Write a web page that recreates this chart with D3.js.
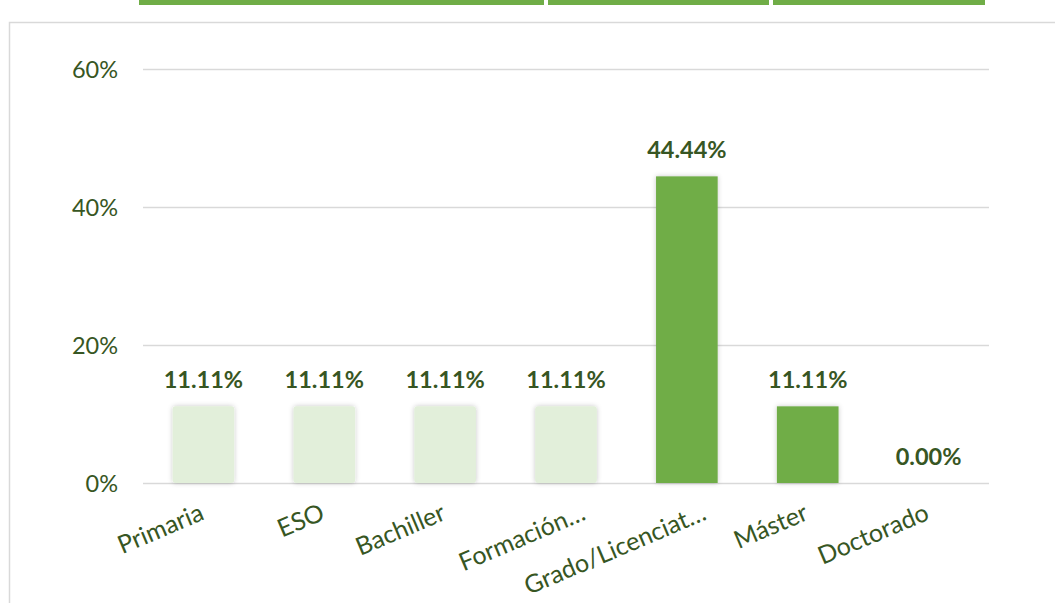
<!DOCTYPE html>
<html>
<head>
<meta charset="utf-8">
<script src="https://cdn.jsdelivr.net/npm/d3@7"></script>
<style>
  body { margin: 0; background: #fff; }
  svg { display: block; }
</style>
</head>
<body>
<script>
// chart data
var categories = ["Primaria", "ESO", "Bachiller", "Formación…", "Grado/Licenciat…", "Máster", "Doctorado"];
var values = [11.11, 11.11, 11.11, 11.11, 44.44, 11.11, 0.00];
var highlighted = [false, false, false, false, true, true, true];
var yTicks = [0, 20, 40, 60];

var W = 1055, H = 603;
var margin = {top: 69, left: 143, right: 66, bottom: 120};
var width = W - margin.left - margin.right,
    height = 483 - margin.top;

var textColor = "#375623";
var font = "Lato, 'Open Sans', sans-serif";

var svg = d3.select("body").append("svg")
  .attr("width", W)
  .attr("height", H);

var defs = svg.append("defs");
var shadow = defs.append("filter").attr("id", "shadow")
  .attr("x", "-30%").attr("y", "-30%").attr("width", "160%").attr("height", "160%");
shadow.append("feDropShadow")
  .attr("dx", 0).attr("dy", 0)
  .attr("stdDeviation", 2.5)
  .attr("flood-color", "#000")
  .attr("flood-opacity", 0.22);

// green strips at the very top (header remnants)
var strips = [[139, 544], [548, 769], [773, 985]];
svg.selectAll(".strip").data(strips).enter().append("rect")
  .attr("class", "strip")
  .attr("x", d => d[0]).attr("y", 0)
  .attr("width", d => d[1] - d[0]).attr("height", 5)
  .attr("fill", "#70ad47");

// chart frame
svg.append("rect")
  .attr("x", 9.5).attr("y", 22.5)
  .attr("width", W + 20).attr("height", H + 20)
  .attr("fill", "none")
  .attr("stroke", "#d9d9d9")
  .attr("stroke-width", 1.5);

var g = svg.append("g")
  .attr("transform", "translate(" + margin.left + "," + margin.top + ")");

var x = d3.scaleBand().domain(categories).range([0, width]).paddingInner(0.49).paddingOuter(0.245);
var y = d3.scaleLinear().domain([0, 60]).range([height, 0]);

// gridlines
g.selectAll(".grid").data(yTicks).enter().append("line")
  .attr("class", "grid")
  .attr("x1", 0).attr("x2", width)
  .attr("y1", d => Math.round(y(d)) + 0.5).attr("y2", d => Math.round(y(d)) + 0.5)
  .attr("stroke", "#d9d9d9")
  .attr("stroke-width", 1.5);

// y axis labels
var yAxis = g.append("g")
  .call(d3.axisLeft(y).tickValues(yTicks).tickFormat(d => d + "%").tickSize(0).tickPadding(25));
yAxis.select(".domain").remove();
yAxis.selectAll("text")
  .attr("fill", textColor)
  .style("font-family", font)
  .style("font-size", "23.5px")
  .attr("dy", "0.36em");

// bars
g.selectAll(".bar").data(values).enter().append("rect")
  .attr("class", "bar")
  .attr("x", (d, i) => x(categories[i]))
  .attr("y", d => y(d))
  .attr("width", x.bandwidth())
  .attr("height", d => height - y(d))
  .attr("rx", (d, i) => highlighted[i] ? 0 : 3)
  .attr("fill", (d, i) => highlighted[i] ? "#70ad47" : "#e2efda")
  .attr("filter", d => d > 0 ? "url(#shadow)" : null);

// value labels
g.selectAll(".lbl").data(values).enter().append("text")
  .attr("class", "lbl")
  .attr("x", (d, i) => x(categories[i]) + x.bandwidth() / 2)
  .attr("y", d => y(d) - 18)
  .attr("text-anchor", "middle")
  .attr("fill", textColor)
  .style("font-family", font)
  .style("font-weight", "bold")
  .style("font-size", "23.5px")
  .text(d => d.toFixed(2) + "%");

// category labels, rotated
g.selectAll(".cat").data(categories).enter().append("text")
  .attr("class", "cat")
  .attr("transform", function(d) {
    var cx = x(d) + x.bandwidth() / 2 + 2 + (d.endsWith("…") ? 19 : 0);
    return "translate(" + cx + "," + (height + 36) + ")rotate(-23)";
  })
  .attr("text-anchor", "end")
  .attr("fill", textColor)
  .style("font-family", font)
  .style("font-size", "25px")
  .text(d => d);
</script>
</body>
</html>
